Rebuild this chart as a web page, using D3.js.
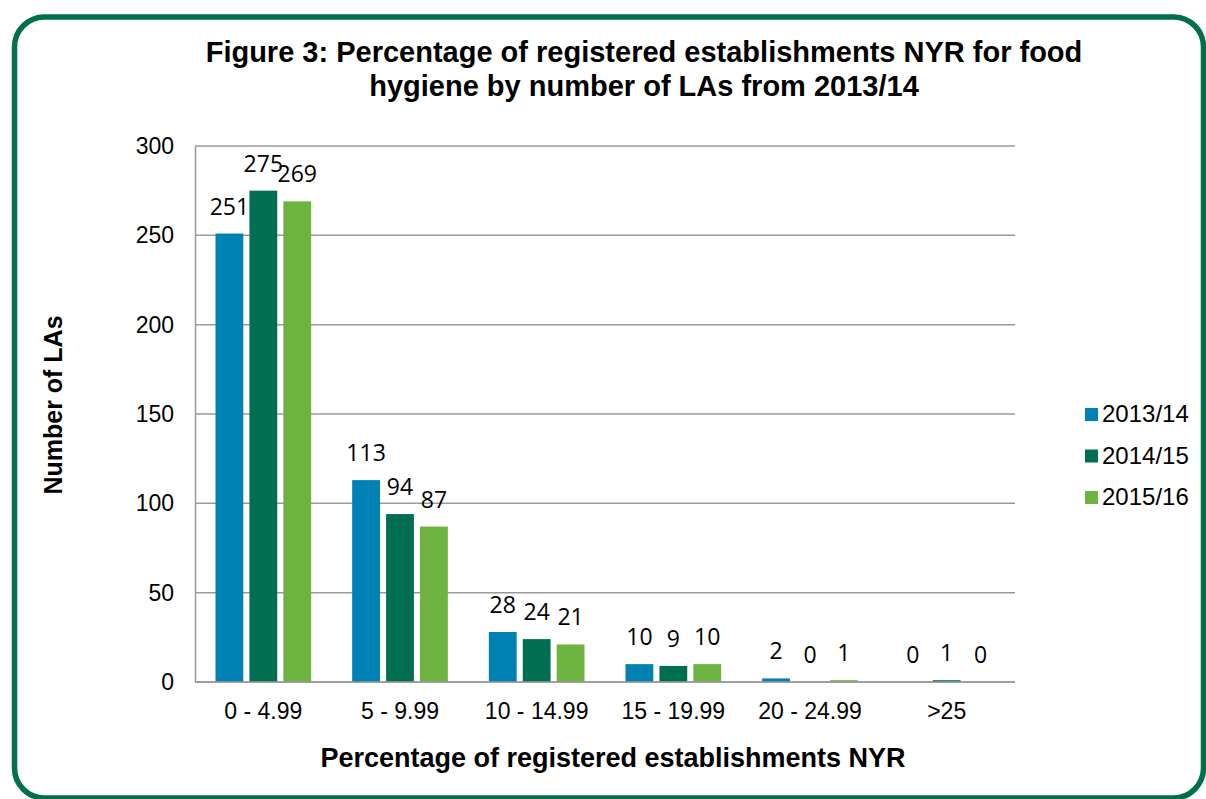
<!DOCTYPE html>
<html>
<head>
<meta charset="utf-8">
<script src="https://cdnjs.cloudflare.com/ajax/libs/d3/7.8.5/d3.min.js"></script>
<style>
  body { margin: 0; background: #fff; }
  text { font-family: "Liberation Sans", Arial, sans-serif; fill: #000; }
</style>
</head>
<body>
<div id="chart"></div>
<script>
// Data
var categories = ["0 - 4.99", "5 - 9.99", "10 - 14.99", "15 - 19.99", "20 - 24.99", ">25"];
var series = ["2013/14", "2014/15", "2015/16"];
var values2013 = [251, 113, 28, 10, 2, 0];
var values2014 = [275, 94, 24, 9, 0, 1];
var values2015 = [269, 87, 21, 10, 1, 0];
var yTicks = [0, 50, 100, 150, 200, 250, 300];

var seriesValues = [values2013, values2014, values2015];
var colors = ["#0081B3", "#006F51", "#6CB33F"];

// Variables
var width = 1206;
var height = 799;
var plot = { left: 195, right: 1015, top: 146, bottom: 682 };

var svg = d3.select("#chart")
    .append("svg")
    .attr("width", width)
    .attr("height", height);

// Rounded green frame
svg.append("rect")
    .attr("x", 14.5)
    .attr("y", 17)
    .attr("width", 1189)
    .attr("height", 781)
    .attr("rx", 30)
    .attr("ry", 30)
    .style("fill", "none")
    .style("stroke", "#00704A")
    .style("stroke-width", 5.5);

// Title
var title = svg.append("text")
    .attr("text-anchor", "middle")
    .style("font-weight", "bold")
    .style("font-size", "29px");
title.append("tspan").attr("x", 644).attr("y", 62)
    .text("Figure 3: Percentage of registered establishments NYR for food");
title.append("tspan").attr("x", 644).attr("y", 96)
    .text("hygiene by number of LAs from 2013/14");

// Scales
var x0 = d3.scaleBand()
    .domain(categories)
    .range([plot.left, plot.right])
    .paddingInner(0.3)
    .paddingOuter(0.15);

var x1 = d3.scaleBand()
    .domain(series)
    .range([0, x0.bandwidth()])
    .paddingInner(0.18);

var y = d3.scaleLinear()
    .domain([0, 300])
    .range([plot.bottom, plot.top]);

// Gridlines
svg.append("g")
    .selectAll("line")
    .data(yTicks)
    .enter().append("line")
    .attr("x1", plot.left)
    .attr("x2", plot.right)
    .attr("y1", function (d) { return y(d); })
    .attr("y2", function (d) { return y(d); })
    .style("stroke", "#9a9a9a")
    .style("stroke-width", 1.5);

// Y axis
var yAxis = svg.append("g")
    .attr("transform", "translate(" + plot.left + ",0)")
    .call(d3.axisLeft(y).tickValues(yTicks).tickSize(0).tickPadding(21));
yAxis.select(".domain").style("stroke", "#9a9a9a").style("stroke-width", 1.5);
yAxis.selectAll("text")
    .style("font-size", "23px")
    .style("font-family", "Liberation Sans, Arial, sans-serif");

// X axis
var xAxis = svg.append("g")
    .attr("transform", "translate(0," + plot.bottom + ")")
    .call(d3.axisBottom(x0).tickSize(0).tickPadding(21));
xAxis.select(".domain").remove();
xAxis.selectAll("text")
    .style("font-size", "23px")
    .style("font-family", "Liberation Sans, Arial, sans-serif");

// Bars
var groups = svg.append("g")
    .selectAll("g")
    .data(categories)
    .enter().append("g")
    .attr("transform", function (d) { return "translate(" + x0(d) + ",0)"; });

var barData = function (cat, i) {
    return series.map(function (s, j) {
        return { series: s, value: seriesValues[j][i], color: colors[j] };
    });
};

groups.selectAll("rect")
    .data(barData)
    .enter().append("rect")
    .attr("x", function (d) { return x1(d.series); })
    .attr("y", function (d) { return y(d.value); })
    .attr("width", x1.bandwidth())
    .attr("height", function (d) { return y(0) - y(d.value); })
    .style("fill", function (d) { return d.color; });

groups.selectAll("text.label")
    .data(barData)
    .enter().append("text")
    .attr("class", "label")
    .attr("x", function (d) { return x1(d.series) + x1.bandwidth() / 2; })
    .attr("y", function (d) { return y(d.value) - 19; })
    .attr("text-anchor", "middle")
    .style("font-family", "'Open Sans', sans-serif")
    .style("font-size", "23px")
    .text(function (d) { return d.value; });

// Baseline on top of bars
svg.append("line")
    .attr("x1", plot.left)
    .attr("x2", plot.right)
    .attr("y1", y(0))
    .attr("y2", y(0))
    .style("stroke", "#9a9a9a")
    .style("stroke-width", 1.5);

// Axis titles
svg.append("text")
    .attr("transform", "translate(62,405) rotate(-90)")
    .attr("text-anchor", "middle")
    .style("font-weight", "bold")
    .style("font-size", "25px")
    .text("Number of LAs");

svg.append("text")
    .attr("x", 613)
    .attr("y", 767)
    .attr("text-anchor", "middle")
    .style("font-weight", "bold")
    .style("font-size", "27px")
    .text("Percentage of registered establishments NYR");

// Legend
var legend = svg.append("g")
    .selectAll("g")
    .data(series)
    .enter().append("g")
    .attr("transform", function (d, i) { return "translate(1085," + (422 + i * 41.5) + ")"; });

legend.append("rect")
    .attr("x", 0)
    .attr("y", -14)
    .attr("width", 13)
    .attr("height", 13)
    .style("fill", function (d, i) { return colors[i]; });

legend.append("text")
    .attr("x", 17)
    .attr("y", 0)
    .style("font-size", "24px")
    .text(function (d) { return d; });
</script>
</body>
</html>
